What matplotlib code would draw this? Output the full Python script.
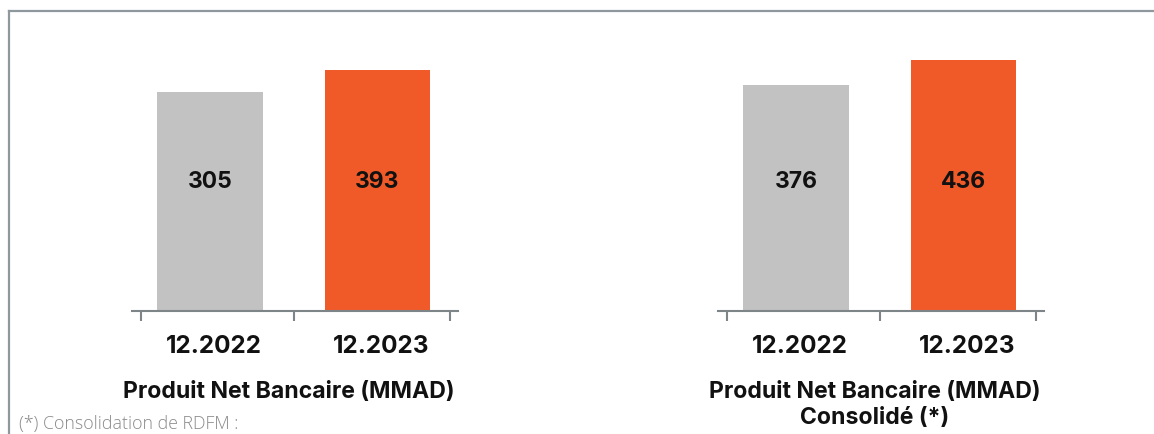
import matplotlib.pyplot as plt
from matplotlib.lines import Line2D
from matplotlib.transforms import blended_transform_factory

# data
periods = ['12.2022', '12.2023']
pnb_social = [305, 393]
pnb_consolide = [376, 436]
titles = ['Produit Net Bancaire (MMAD)', 'Produit Net Bancaire (MMAD)\nConsolidé (*)']
footnote = '(*) Consolidation de RDFM :'

bar_colors = ['#C1C2C1', '#F05A28']
axis_color = '#7E8588'
frame_color = '#8F989D'
font = 'Inter'

fig = plt.figure(figsize=(11.54, 4.34), dpi=100)

# the axis of the original does not start at zero: each panel has its own base
panels = [
    (0.1144, pnb_social, (-573, 593)),
    (0.6222, pnb_consolide, (-168, 532)),
]

for (left, values, ylim), title in zip(panels, titles):
    ax = fig.add_axes([left, 0.2823, 0.2825, 0.6717])
    base = ylim[0]
    x = list(range(len(values)))
    ax.bar(x, [v - base for v in values], bottom=base, width=0.63,
           color=bar_colors, zorder=2)
    ax.set_xlim(-0.467, 1.482)
    ax.set_ylim(*ylim)

    for s in ['top', 'right', 'left']:
        ax.spines[s].set_visible(False)
    ax.spines['bottom'].set_color(axis_color)
    ax.spines['bottom'].set_linewidth(1.5)
    ax.spines['bottom'].set_zorder(3)
    ax.set_yticks([])

    ax.set_xticks([xi + 0.02 for xi in x])
    ax.set_xticklabels(periods, fontsize=17.5, fontweight='bold', family=font,
                       color='#111111')
    ax.tick_params(axis='x', which='major', length=0, pad=17)
    ax.set_xticks([-0.412, 0.504, 1.434], minor=True)
    ax.tick_params(axis='x', which='minor', length=7, width=1.5, color=axis_color)

    trans = blended_transform_factory(ax.transData, ax.transAxes)
    for xi, v in zip(x, values):
        ax.text(xi, 0.445, str(v), transform=trans, ha='center', va='center',
                fontsize=16.5, fontweight='bold', family=font, color='#111111')

    ax.text(0.47, -0.238, title, transform=trans, ha='center', va='top',
            fontsize=16.6, fontweight='bold', family=font, color='#111111',
            linespacing=1.25)

fig.text(19 / 1154, 1 - 424 / 434, footnote, ha='left', va='center',
         fontsize=12.8, family='Open Sans', fontweight='light', color='#8A8A8A')

# frame: top and left edges only
fig.add_artist(Line2D([8.5 / 1154, 1], [1 - 10.5 / 434] * 2, color=frame_color, lw=1.6))
fig.add_artist(Line2D([8.5 / 1154] * 2, [0, 1 - 10.5 / 434], color=frame_color, lw=1.6))

fig.savefig('out.png', dpi=100)
